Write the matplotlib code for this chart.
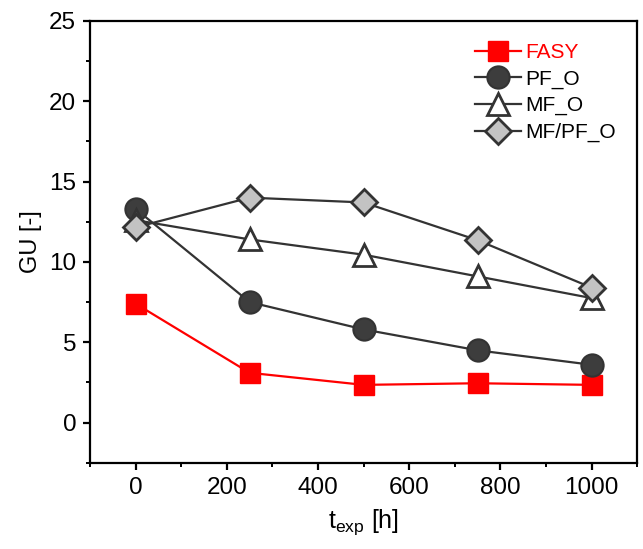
import matplotlib as mpl
mpl.use('Agg')
import matplotlib.pyplot as plt
from matplotlib.ticker import MultipleLocator

plt.rcParams['font.family'] = ['Liberation Sans', 'DejaVu Sans']

# exposure time [h] and GU values
t_exp = [0, 250, 500, 750, 1000]
gu_fasy = [7.4, 3.1, 2.35, 2.45, 2.35]
gu_pf = [13.3, 7.5, 5.8, 4.5, 3.6]
gu_mf = [12.6, 11.4, 10.45, 9.1, 7.75]
gu_mfpf = [12.15, 14.0, 13.7, 11.35, 8.4]
labels = ['FASY', 'PF_O', 'MF_O', 'MF/PF_O']

fig = plt.figure(figsize=(6.43, 5.49), dpi=100)
ax = fig.add_axes([0.14, 0.157, 0.851, 0.805])

dark = '#333333'
ax.plot(t_exp, gu_fasy, color='#ff0000', lw=1.6, marker='s', ms=15,
        mfc='#ff0000', mec='#ff0000', label=labels[0], zorder=2)
ax.plot(t_exp, gu_pf, color=dark, lw=1.6, marker='o', ms=16,
        mfc='#3d3d3d', mec=dark, mew=1.5, label=labels[1], zorder=3)
ax.plot(t_exp, gu_mf, color=dark, lw=1.6, marker='^', ms=16,
        mfc='white', mec=dark, mew=2, label=labels[2], zorder=4)
ax.plot(t_exp, gu_mfpf, color=dark, lw=1.6, marker='D', ms=13,
        mfc='#c3c3c3', mec=dark, mew=2, label=labels[3], zorder=5)

ax.set_xlim(-100, 1100)
ax.set_ylim(-2.5, 25)
ax.xaxis.set_major_locator(MultipleLocator(200))
ax.xaxis.set_minor_locator(MultipleLocator(100))
ax.yaxis.set_major_locator(MultipleLocator(5))
ax.yaxis.set_minor_locator(MultipleLocator(2.5))
ax.set_yticks([0, 5, 10, 15, 20, 25])

for s in ax.spines.values():
    s.set_linewidth(1.6)
ax.tick_params(which='major', direction='out', length=5, width=1.6,
               labelsize=17.5, pad=5)
ax.tick_params(which='minor', direction='out', length=3, width=1.4)

ax.set_xlabel('t$_{\\mathregular{exp}}$ [h]', fontsize=18, labelpad=6)
ax.set_ylabel('GU [-]', fontsize=17, labelpad=5)

leg = ax.legend(loc='upper left', bbox_to_anchor=(0.704, 0.95), frameon=False,
                fontsize=15, handlelength=2.2, handletextpad=0.2,
                labelspacing=0.36, borderpad=0, borderaxespad=0)
leg.get_texts()[0].set_color('#ff0000')

fig.savefig('out.png', dpi=100)
